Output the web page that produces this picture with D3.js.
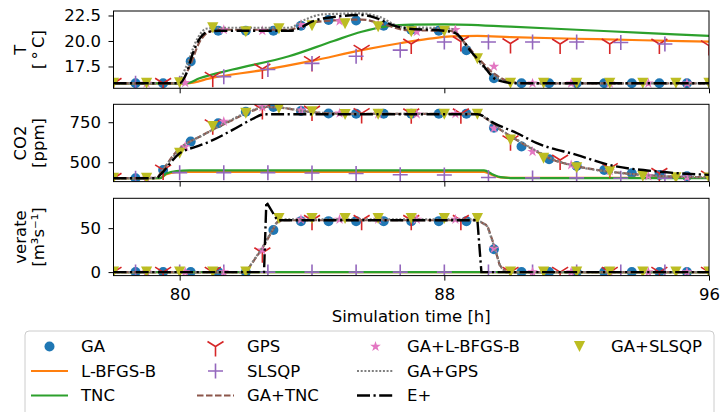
<!DOCTYPE html>
<html>
<head>
<meta charset="utf-8">
<script src="https://cdn.jsdelivr.net/npm/d3@7"></script>
<style>
  body { margin: 0; background: #fff; }
  svg { display: block; font-family: "DejaVu Sans", sans-serif; }
</style>
</head>
<body>
<div id="chart-container"></div>
<script>
/**************************************************
 * Data (hours 78-96)
 **************************************************/

// sampling times of the marker-only series [h]
const gaTimes = d3.range(21).map(k => 78 + 2 / 3 + k * 5 / 6);
const gaSlsqpTimes = d3.range(19).map(k => 78 + k);
const gaLbfgsTimes = d3.range(15).map(k => 79 + k * 7 / 6);
const gpsTimes = d3.range(13).map(k => 78 + k * 1.5);
const slsqpTimes = d3.range(13).map(k => 78 + 2 / 3 + k * 4 / 3);

// GA (circles)
const gaT = [15.85, 15.85, 18.0, 21.0, 21.0, 21.0, 21.5, 22.05, 22.0, 21.5, 21.1, 21.0, 19.1, 16.35, 15.85, 15.85, 15.85, 15.85, 15.85, 15.85, 15.85];
const gaC = [400, 452, 629, 744, 816, 845, 820, 805, 803, 803, 803, 803, 803, 715, 598, 519, 477, 452, 431, 420, 412];
const gaV = [0, 0, 0, 0, 0, 48, 58, 58, 58, 58, 58, 58, 58, 26, 0, 0, 0, 0, 0, 0, 0];

// GA+SLSQP (triangles)
const gaSlsqpT = [15.85, 15.85, 15.9, 21.3, 20.9, 21.2, 21.5, 21.7, 21.4, 20.9, 20.95, 18.25, 15.85, 15.85, 15.85, 15.85, 15.85, 15.85, 15.85];
const gaSlsqpC = [400, 400, 556, 723, 806, 837, 816, 798, 800, 800, 800, 800, 639, 525, 466, 441, 412, 403, 401];
const gaSlsqpV = [0, 0, 0, 0, 0, 61, 61, 61, 61, 61, 61, 61, 0, 0, 0, 0, 0, 0, 0];

// GA+L-BFGS-B (stars)
const gaLbfgsT = [15.85, 15.9, 21.1, 21.0, 21.6, 21.95, 21.6, 20.9, 21.1, 17.5, 15.85, 15.85, 15.85, 15.85, 15.85];
const gaLbfgsC = [400, 597, 754, 845, 825, 806, 800, 800, 802, 712, 566, 483, 445, 414, 406];
const gaLbfgsV = [0, 0, 0, 25, 60, 60, 60, 60, 60, 27, 0, 0, 0, 0, 0];

// GPS (tri markers)
const gpsT = [15.85, 15.85, 16.45, 17.25, 18.0, 19.1, 19.7, 19.95, 19.75, 19.7, 19.7, 19.7, 19.55];
const gpsC = [400, 452, 735, 830, 820, 805, 803, 803, 635, 514, 462, 431, 415];
const gpsV = [0, 0, 0, 22, 59, 59, 59, 59, 0, 0, 0, 0, 0];

// SLSQP (plus)
const slsqpT = [15.85, 15.85, 16.5, 17.2, 17.8, 18.5, 19.1, 19.9, 19.9, 19.9, 19.9, 19.85, 19.7];
const slsqpC = [400, 435, 435, 435, 433, 430, 422, 420, 405, 402, 402, 400, 401];
const slsqpV = [0, 0, 0, 0, 0, 0, 0, 0, 0, 0, 0, 0, 0];

// line series as [hour, value]
const lbfgsT = [[78, 15.85], [80.2, 15.85], [81, 16.4], [82.5, 17.15], [84, 18.05], [85.5, 19.1], [86.7, 19.8], [87.5, 20.2], [88.2, 20.45], [89, 20.5], [90, 20.38], [92, 20.22], [94, 20.07], [96, 19.93]];
const lbfgsC = [[78, 400], [79.4, 400], [79.6, 425], [79.9, 438], [80.3, 440], [89.2, 440], [89.45, 420], [89.7, 405], [90, 402], [96, 402]];
const lbfgsV = [[78, 0], [96, 0]];

const tncT = [[78, 15.85], [80.2, 15.85], [80.6, 16.35], [81.6, 17.2], [83.3, 18.5], [84.65, 20.0], [85.5, 20.9], [86.3, 21.45], [87, 21.6], [88, 21.62], [90, 21.4], [92, 21.1], [94, 20.8], [96, 20.5]];
const tncC = [[78, 400], [79.4, 400], [79.6, 430], [79.9, 445], [80.3, 449], [89.2, 449], [89.45, 425], [89.7, 407], [90.1, 401], [96, 400]];
const tncV = [[78, 0], [96, 0]];

const gaTncT = [[78, 15.85], [80.0, 15.85], [80.3, 17.5], [80.6, 19.9], [80.9, 20.9], [81.3, 21.1], [83.3, 21.1], [83.7, 21.5], [84.2, 21.9], [85.5, 22.1], [86.2, 21.6], [86.9, 21.05], [88.2, 21.0], [88.5, 20.2], [89.0, 18.4], [89.5, 16.8], [90.0, 16.0], [90.5, 15.85], [96, 15.85]];
const gaTncC = [[78, 400], [79.3, 402], [79.45, 441], [79.9, 566], [80.7, 670], [81.5, 754], [82.2, 822], [82.6, 845], [83.1, 840], [83.65, 822], [84.5, 806], [85.5, 802], [89.0, 802], [89.25, 775], [89.7, 702], [90.1, 650], [90.7, 577], [91.3, 514], [92, 475], [93, 441], [94, 421], [95, 410], [96, 406]];
const gaTncV = [[78, 0], [82.0, 0], [82.5, 27], [82.95, 57], [83.15, 59], [89.0, 59], [89.3, 53], [89.5, 31], [89.67, 8], [89.85, 0], [96, 0]];

const gaGpsT = [[78, 15.85], [79.9, 15.85], [80.2, 17.5], [80.5, 20.0], [80.8, 21.2], [81.2, 21.3], [83.3, 21.3], [83.8, 22.1], [84.3, 22.6], [85.5, 22.7], [86.0, 22.4], [86.7, 21.4], [88.2, 21.2], [88.6, 19.8], [89.2, 17.4], [89.8, 16.1], [90.3, 15.85], [96, 15.85]];
const gaGpsC = [[78, 400], [79.3, 402], [79.5, 455], [80, 580], [80.8, 680], [81.5, 758], [82.2, 825], [82.6, 846], [83.2, 838], [83.8, 818], [84.6, 805], [85.5, 802], [89.0, 802], [89.3, 768], [89.7, 705], [90.2, 640], [90.8, 570], [91.4, 510], [92, 474], [93, 440], [94, 420], [95, 410], [96, 405]];
const gaGpsV = [[78, 0], [82.0, 0], [82.5, 28], [82.95, 58], [83.15, 60], [89.0, 60], [89.3, 52], [89.5, 30], [89.7, 6], [89.85, 0], [96, 0]];

const epT = [[78, 15.85], [80.0, 15.85], [80.2, 16.8], [80.4, 18.8], [80.6, 20.2], [80.85, 20.9], [81.2, 21.0], [83.35, 21.0], [83.65, 21.3], [84.0, 21.9], [84.65, 22.35], [85.5, 22.55], [85.9, 22.3], [86.4, 21.6], [86.8, 21.25], [88.0, 21.0], [88.35, 20.75], [88.8, 19.0], [89.2, 17.5], [89.5, 16.35], [89.8, 16.0], [90.1, 15.85], [96, 15.85]];
const epC = [[78, 400], [79.3, 400], [79.45, 430], [80.0, 556], [80.5, 598], [80.9, 629], [81.6, 702], [82.2, 770], [82.55, 800], [89.0, 800], [89.5, 744], [90.2, 681], [90.8, 619], [92.0, 546], [93.0, 483], [94.5, 441], [96, 421]];
const epV = [[78, 0], [82.55, 0], [82.62, 80], [82.95, 59], [89.0, 59], [89.12, 0], [96, 0]];

// axis ticks
const xTicks = [80, 88, 96];
const tTicks = [17.5, 20.0, 22.5];
const co2Ticks = [500, 750];
const vTicks = [0, 50];

/**************************************************
 * Series styles (legend order)
 **************************************************/

const series = [
  { name: "GA", color: "#1f77b4", marker: "circle", times: gaTimes, values: [gaT, gaC, gaV] },
  { name: "L-BFGS-B", color: "#ff7f0e", dash: null, values: [lbfgsT, lbfgsC, lbfgsV] },
  { name: "TNC", color: "#2ca02c", dash: null, values: [tncT, tncC, tncV] },
  { name: "GPS", color: "#d62728", marker: "tri", times: gpsTimes, values: [gpsT, gpsC, gpsV] },
  { name: "SLSQP", color: "#9467bd", marker: "plus", times: slsqpTimes, values: [slsqpT, slsqpC, slsqpV] },
  { name: "GA+TNC", color: "#8c564b", dash: "6.5,2.5", values: [gaTncT, gaTncC, gaTncV] },
  { name: "GA+L-BFGS-B", color: "#e377c2", marker: "star", times: gaLbfgsTimes, values: [gaLbfgsT, gaLbfgsC, gaLbfgsV] },
  { name: "GA+GPS", color: "#7f7f7f", dash: "2,1.7", values: [gaGpsT, gaGpsC, gaGpsV] },
  { name: "E+", color: "#000000", dash: "13,3.5,2.2,3.5", values: [epT, epC, epV], z: 2 },
  { name: "GA+SLSQP", color: "#bcbd22", marker: "tridown", times: gaSlsqpTimes, values: [gaSlsqpT, gaSlsqpC, gaSlsqpV], z: 1 }
];

function markerPath(type) {
  if (type === "circle") return d3.symbol(d3.symbolCircle, Math.PI * 25)();
  if (type === "tridown") return "M0,5.5L-5.6,-5.5L5.6,-5.5Z";
  if (type === "plus") return "M-7.5,0H7.5M0,-7.5V7.5";
  if (type === "tri") return "M0,0V10M0,0L-8,-5M0,0L8,-5";
  // five point star
  const pts = d3.range(10).map(i => {
    const a = -Math.PI / 2 + i * Math.PI / 5;
    const r = i % 2 ? 5.6 * 0.382 : 5.6;
    return [r * Math.cos(a), r * Math.sin(a)];
  });
  return "M" + pts.join("L") + "Z";
}

function styleMarker(sel, s) {
  if (s.marker === "plus" || s.marker === "tri") {
    sel.attr("fill", "none").attr("stroke", s.color).attr("stroke-width", 1.6);
  } else {
    sel.attr("fill", s.color).attr("stroke", "none");
  }
}

/**************************************************
 * Rendering
 **************************************************/

const W = 723, H = 412;
const left = 113.5, right = 709;
const panelH = 77.3;
const fontSize = 16.5;

const panels = [
  { top: 11, domain: [15.36, 22.94], ticks: tTicks, fmt: d3.format(".1f"), label: ["T", "[\u2009°\u2009C]"] },
  { top: 104.3, domain: [379, 862], ticks: co2Ticks, fmt: d3.format("d"), label: ["CO2", "[ppm]"] },
  { top: 198.3, domain: [-4, 84], ticks: vTicks, fmt: d3.format("d"), label: ["verate", "[m³s⁻¹]"] }
];

const svg = d3.select("#chart-container")
  .append("svg")
  .attr("width", W)
  .attr("height", H);

svg.append("rect").attr("width", W).attr("height", H).attr("fill", "#fff");

const x = d3.scaleLinear().domain([78, 96]).range([left, right]);

const drawOrder = series.slice().sort((a, b) => (a.z || 0) - (b.z || 0));

panels.forEach((p, pi) => {
  const y = d3.scaleLinear().domain(p.domain).range([p.top + panelH, p.top]);
  const g = svg.append("g");

  g.append("clipPath").attr("id", "clip" + pi)
    .append("rect")
    .attr("x", left).attr("y", p.top)
    .attr("width", right - left).attr("height", panelH);

  const plot = g.append("g").attr("clip-path", `url(#clip${pi})`);

  drawOrder.forEach(s => {
    if (s.marker) {
      const vals = s.values[pi];
      const pts = s.times.map((t, i) => [t, vals[i]]);
      const m = plot.selectAll(null)
        .data(pts)
        .enter()
        .append("path")
        .attr("d", markerPath(s.marker))
        .attr("transform", d => `translate(${x(d[0])},${y(d[1])})`);
      styleMarker(m, s);
    } else {
      const line = d3.line()
        .x(d => x(d[0]))
        .y(d => y(d[1]))
        .curve(pi === 2 ? d3.curveLinear : d3.curveMonotoneX);
      plot.append("path")
        .attr("d", line(s.values[pi]))
        .attr("fill", "none")
        .attr("stroke", s.color)
        .attr("stroke-width", s.name === "E+" ? 2.4 : 2.2)
        .attr("stroke-dasharray", s.dash);
    }
  });

  // axes
  const yAxis = g.append("g")
    .attr("transform", `translate(${left},0)`)
    .call(d3.axisLeft(y).tickValues(p.ticks).tickFormat(p.fmt).tickSize(5).tickPadding(7.5));
  const xAxis = g.append("g")
    .attr("transform", `translate(0,${p.top + panelH})`)
    .call(d3.axisBottom(x).tickValues(xTicks).tickSize(5).tickPadding(7.5)
      .tickFormat(pi === 2 ? d3.format("d") : () => ""));
  [yAxis, xAxis].forEach(a => {
    a.select(".domain").remove();
    a.selectAll("line").attr("stroke", "#000").attr("stroke-width", 1);
    a.selectAll("text").attr("fill", "#000").attr("font-size", fontSize)
      .attr("font-family", "DejaVu Sans");
  });

  g.append("rect")
    .attr("x", left).attr("y", p.top)
    .attr("width", right - left).attr("height", panelH)
    .attr("fill", "none").attr("stroke", "#000").attr("stroke-width", 1);

  // two line y label
  const cy = p.top + panelH / 2;
  [26, 44].forEach((bx, li) => {
    svg.append("text")
      .attr("transform", `translate(${bx},${cy}) rotate(-90)`)
      .attr("text-anchor", "middle")
      .attr("font-size", fontSize)
      .attr("fill", "#000")
      .text(p.label[li]);
  });
});

svg.append("text")
  .attr("x", (left + right) / 2)
  .attr("y", 322)
  .attr("text-anchor", "middle")
  .attr("font-size", fontSize)
  .attr("fill", "#000")
  .text("Simulation time [h]");

/**************************************************
 * Legend
 **************************************************/

const legend = svg.append("g");
legend.append("rect")
  .attr("x", 25).attr("y", 331)
  .attr("width", 689).attr("height", 90)
  .attr("rx", 4)
  .attr("fill", "#fff")
  .attr("stroke", "#cccccc")
  .attr("stroke-width", 1);

const colX = [31, 197, 357, 561];
const rowY = [346.5, 371, 395.5];

series.forEach((s, i) => {
  const col = Math.floor(i / 3), row = i % 3;
  const gx = colX[col], gy = rowY[row];
  const item = legend.append("g");
  if (s.marker) {
    const m = item.append("path")
      .attr("d", markerPath(s.marker))
      .attr("transform", `translate(${gx + 18.5},${gy})`);
    styleMarker(m, s);
  } else {
    item.append("line")
      .attr("x1", gx).attr("x2", gx + 37)
      .attr("y1", gy).attr("y2", gy)
      .attr("stroke", s.color)
      .attr("stroke-width", s.name === "E+" ? 2.4 : 2.2)
      .attr("stroke-dasharray", s.dash);
  }
  item.append("text")
    .attr("x", gx + 50)
    .attr("y", gy)
    .attr("dy", "0.36em")
    .attr("font-size", fontSize)
    .attr("fill", "#000")
    .text(s.name);
});
</script>
</body>
</html>
